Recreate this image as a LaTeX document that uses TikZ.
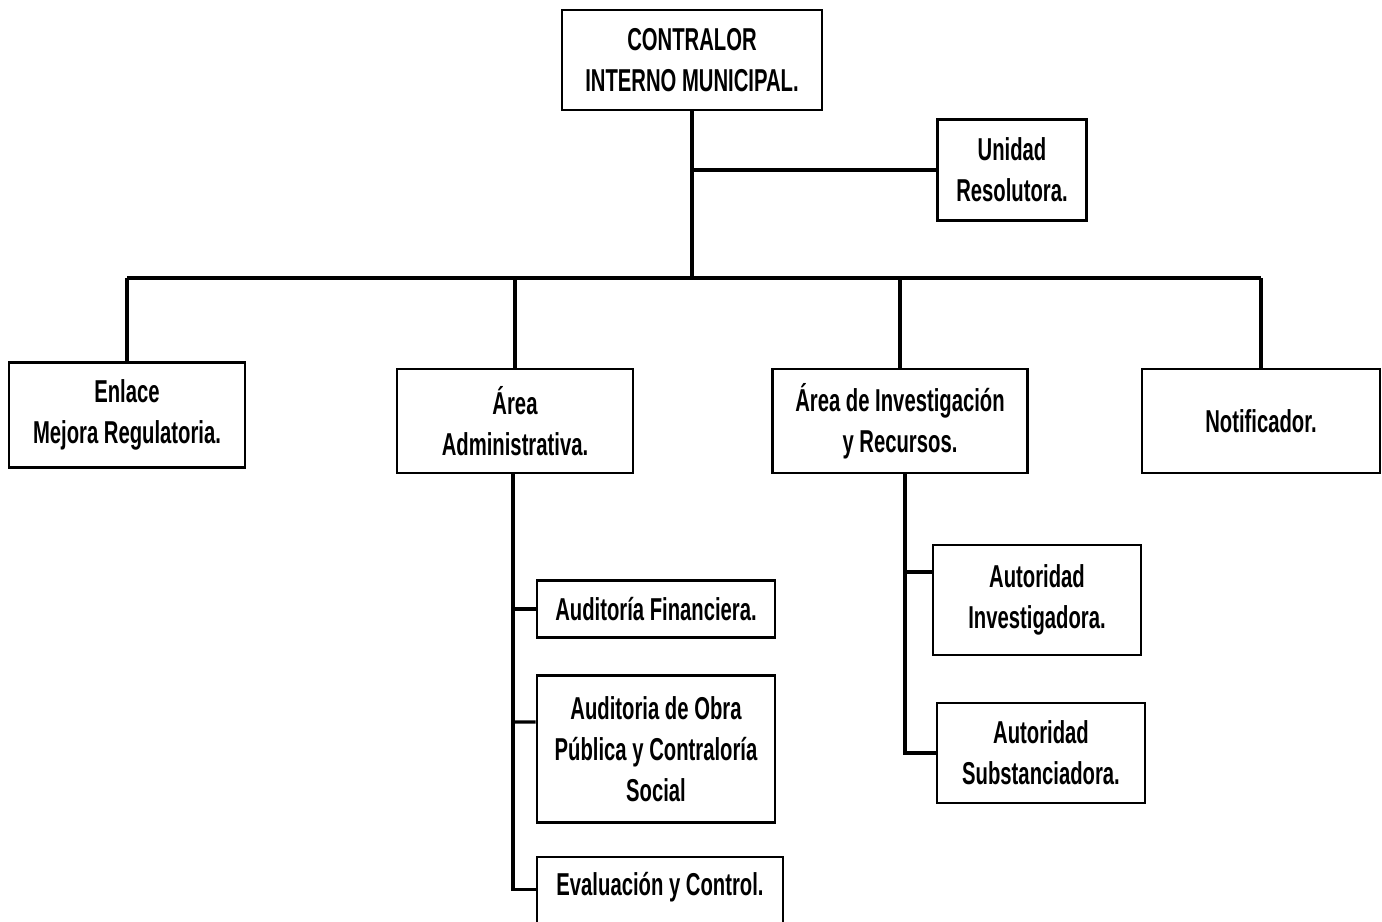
\documentclass[tikz,border=0pt]{standalone}
\usepackage{fontspec}
\setmainfont{Liberation Sans}[FakeStretch=0.64]
\begin{document}
\begin{tikzpicture}[x=0.01cm,y=-0.01cm,%
        every node/.style={font=\fontsize{9}{11.6}\selectfont\bfseries},
        caja/.style={draw=black,line width=0.7pt,align=center,inner sep=0pt},%
        linea/.style={draw=black,line width=0.9pt}]%
        \clip (0,0) rectangle (1382,921);
        \node[caja,minimum width=2.60cm,minimum height=1.00cm] (contralor) at (692,60) {CONTRALOR\\INTERNO MUNICIPAL.};
        \node[caja,minimum width=1.49cm,minimum height=1.01cm] (resol) at (1012,170) {Unidad\\Resolutora.};
        \node[caja,minimum width=2.36cm,minimum height=1.05cm] (enlace) at (127,415) {Enlace\\Mejora Regulatoria.};
        \node[caja,minimum width=2.36cm,minimum height=1.04cm] (admin) at (515,421) {Área\\Administrativa.};
        \node[caja,minimum width=2.55cm,minimum height=1.04cm] (invest) at (900,421) {Área de Investigación\\y Recursos.};
        \node[caja,minimum width=2.38cm,minimum height=1.04cm] (notif) at (1261,421) {Notificador.};
        \node[caja,minimum width=2.38cm,minimum height=0.57cm] (audfin) at (656,609) {Auditoría Financiera.};
        \node[caja,minimum width=2.38cm,minimum height=1.47cm] (audobra) at (656,749) {Auditoria de Obra\\Pública y Contraloría\\Social};
        \node[caja,minimum width=2.46cm,minimum height=1.00cm,anchor=north,
          text height=0.25cm,text depth=0.49cm] (evalc) at (660,856) {Evaluación y Control.};
        \node[caja,minimum width=2.08cm,minimum height=1.10cm] (autinv) at (1037,600) {Autoridad\\Investigadora.};
        \node[caja,minimum width=2.08cm,minimum height=1.00cm] (autsub) at (1041,753) {Autoridad\\Substanciadora.};
        % conectores
        \coordinate (barra) at (692,278);
        \draw[linea] (contralor.south) -- (barra);
        \draw[linea] (contralor.south |- resol.west) -- (resol.west);
        \draw[linea] (barra -| enlace.north) -- (barra -| notif.north);
        \foreach \n in {enlace,admin,invest,notif}
          \draw[linea] (barra -| \n.north) -- (\n.north);
        \draw[linea] ([xshift=-0.02cm]admin.south) |- ([yshift=0.18cm]evalc.west);
        \draw[linea] ([xshift=-0.02cm]admin.south |- audfin.west) -- (audfin.west);
        \draw[linea] ([xshift=-0.02cm]admin.south |- audobra.west) ++(0,-27) -- ([yshift=0.27cm]audobra.west);
        \draw[linea] ([xshift=0.05cm]invest.south) |- (autsub.west);
        \draw[linea] ([xshift=0.05cm,yshift=0.28cm]invest.south |- autinv.west) -- ([yshift=0.28cm]autinv.west);
\end{tikzpicture}
\end{document}
